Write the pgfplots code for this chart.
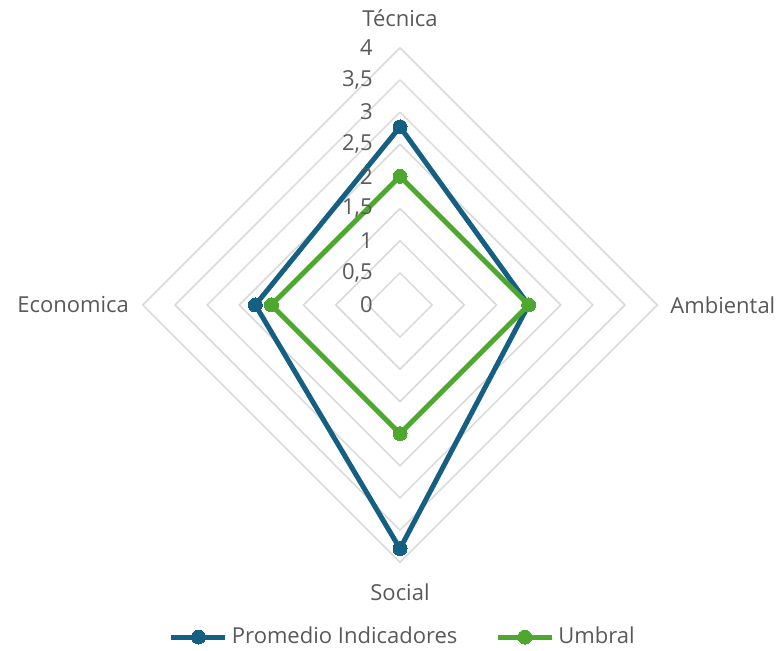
\documentclass[border=0pt]{standalone}
\usepackage{pgfplots}
\pgfplotsset{compat=1.18}
\usepackage{fontspec}
\setmainfont{Open Sans}
\definecolor{cblue}{HTML}{156082}
\definecolor{cgreen}{HTML}{4EA72E}
\definecolor{ctext}{HTML}{595959}
\definecolor{cgrid}{HTML}{D9D9D9}
\begin{document}
\begin{tikzpicture}
\begin{axis}[
  scale only axis, width=390pt, height=325pt,
  xmin=-6.221, xmax=5.910, ymin=-5.365, ymax=4.743,
  axis lines=none, clip=false,
  font=\fontsize{11}{13}\selectfont\color{ctext},
  legend columns=2,
  legend style={draw=none, fill=none, at={(axis cs:0.06,-5.163)}, anchor=center,
    font=\fontsize{11}{13}\selectfont\color{ctext},
    /tikz/every even column/.append style={column sep=17pt},
    inner sep=0pt},
  legend image code/.code={\draw[mark repeat=2,mark phase=2,#1] plot coordinates {(0pt,0pt) (13.5pt,0pt) (27pt,0pt)};},
]
\path (rel axis cs:0,0) rectangle (rel axis cs:1,1);
% grid
\addplot[cgrid, line width=0.75pt, forget plot] coordinates {(0,0.5) (0.5,0) (0,-0.5) (-0.5,0) (0,0.5)};
\addplot[cgrid, line width=0.75pt, forget plot] coordinates {(0,1) (1,0) (0,-1) (-1,0) (0,1)};
\addplot[cgrid, line width=0.75pt, forget plot] coordinates {(0,1.5) (1.5,0) (0,-1.5) (-1.5,0) (0,1.5)};
\addplot[cgrid, line width=0.75pt, forget plot] coordinates {(0,2) (2,0) (0,-2) (-2,0) (0,2)};
\addplot[cgrid, line width=0.75pt, forget plot] coordinates {(0,2.5) (2.5,0) (0,-2.5) (-2.5,0) (0,2.5)};
\addplot[cgrid, line width=0.75pt, forget plot] coordinates {(0,3) (3,0) (0,-3) (-3,0) (0,3)};
\addplot[cgrid, line width=0.75pt, forget plot] coordinates {(0,3.5) (3.5,0) (0,-3.5) (-3.5,0) (0,3.5)};
\addplot[cgrid, line width=0.75pt, forget plot] coordinates {(0,4) (4,0) (0,-4) (-4,0) (0,4)};
% data: Tecnica (top), Ambiental (right), Social (bottom), Economica (left)
\addplot[cblue, line width=2.5pt, line join=round, mark=*, mark size=3.5pt, mark options={solid, fill=cblue, draw=cblue, line width=0pt}]
  coordinates {(0,2.77) (2.0,0) (0,-3.79) (-2.25,0) (0,2.77)};
\addlegendentry{Promedio Indicadores}
\addplot[cgreen, line width=2.5pt, line join=round, mark=*, mark size=3.5pt, mark options={solid, fill=cgreen, draw=cgreen, line width=0pt}]
  coordinates {(0,2.0) (2.0,0) (0,-2.0) (-2.0,0) (0,2.0)};
\addlegendentry{Umbral}
% radial tick labels
\node[anchor=east, inner sep=0pt] at (axis cs:-0.42,0) {0};
\node[anchor=east, inner sep=0pt] at (axis cs:-0.42,0.5) {0,5};
\node[anchor=east, inner sep=0pt] at (axis cs:-0.42,1) {1};
\node[anchor=east, inner sep=0pt] at (axis cs:-0.42,1.5) {1,5};
\node[anchor=east, inner sep=0pt] at (axis cs:-0.42,2) {2};
\node[anchor=east, inner sep=0pt] at (axis cs:-0.42,2.5) {2,5};
\node[anchor=east, inner sep=0pt] at (axis cs:-0.42,3) {3};
\node[anchor=east, inner sep=0pt] at (axis cs:-0.42,3.5) {3,5};
\node[anchor=east, inner sep=0pt] at (axis cs:-0.42,4) {4};
% category labels
\node[anchor=center] at (axis cs:0,4.46) {Técnica};
\node[anchor=west, inner sep=0pt] at (axis cs:4.2,0) {Ambiental};
\node[anchor=center] at (axis cs:0,-4.46) {Social};
\node[anchor=east, inner sep=0pt] at (axis cs:-4.21,0) {Economica};
\end{axis}
\end{tikzpicture}
\end{document}
